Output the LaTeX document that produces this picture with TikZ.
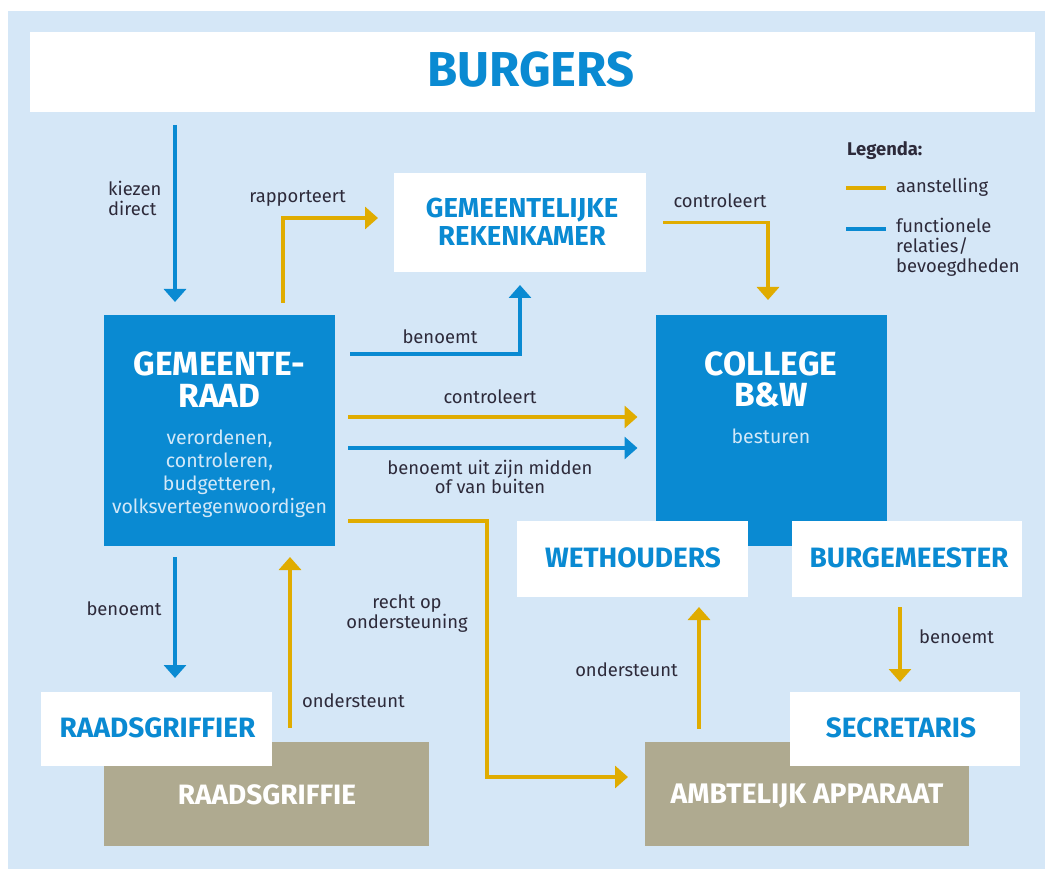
\documentclass[tikz,border=0pt]{standalone}
\usepackage{fontspec}
\setmainfont{Fira Sans}
\usetikzlibrary{arrows.meta,calc}
\definecolor{bgblue}{HTML}{D5E7F7}
\definecolor{mainblue}{HTML}{0A8AD2}
\definecolor{gold}{HTML}{E0AC00}
\definecolor{taupe}{HTML}{AFAA90}
\definecolor{txt}{HTML}{2D2A3A}
\definecolor{lighttxt}{HTML}{D2E8F8}
\tikzset{
  box/.style={inner sep=0pt, outer sep=0pt},
  lbl/.style={font=\fontsize{18.4}{20}\selectfont, text=txt, inner sep=0pt, anchor=base},
  lblw/.style={lbl, anchor=base west},
  hd/.style={font=\fontsize{#1}{#1}\selectfont\bfseries, inner sep=0pt, anchor=base},
  sub/.style={font=\fontsize{19.5}{21}\selectfont, text=lighttxt, inner sep=0pt, anchor=base},
  garrow/.style={draw=gold, line width=3.5pt, -{Triangle[width=22pt,length=13pt]}},
  barrow/.style={draw=mainblue, line width=3.5pt, -{Triangle[width=22pt,length=13pt]}},
}
\begin{document}
\begin{tikzpicture}[x=1pt,y=-1pt]
\useasboundingbox (0,0) rectangle (1045,869);
\fill[white] (0,0) rectangle (1045,869);
\fill[bgblue] (8,11) rectangle (1045,869);

% boxes
\node[box, fill=white, minimum width=1005pt, minimum height=80pt] (burgers) at (532.5,72) {};
\node[hd=49, text=mainblue] (burgersT) at (531,87) {BURGERS};

\node[box, fill=mainblue, minimum width=231pt, minimum height=231pt] (raad) at (219.5,430.5) {};
\node[hd=33.5, text=white] (raadT1) at (219.5,375) {GEMEENTE-};
\node[hd=33.5, text=white] (raadT2) at (219.5,407) {RAAD};
\node[sub] (raadS1) at (219.5,444) {verordenen,};
\node[sub] (raadS2) at (219.5,467) {controleren,};
\node[sub] (raadS3) at (219.5,490) {budgetteren,};
\node[sub] (raadS4) at (219.5,513) {volksvertegenwoordigen};

\node[box, fill=white, minimum width=252pt, minimum height=99pt] (rek) at (520,222.5) {};
\node[hd=27.4, text=mainblue] (rekT1) at (522,218) {GEMEENTELIJKE};
\node[hd=27.4, text=mainblue] (rekT2) at (522,246) {REKENKAMER};

\node[box, fill=mainblue, minimum width=231pt, minimum height=231pt] (college) at (771,430.5) {};
\node[hd=33.5, text=white] (colT1) at (771,375) {COLLEGE};
\node[hd=33.5, text=white] (colT2) at (771,406) {B\&W};
\node[sub] (colS) at (771,443) {besturen};

\node[box, fill=white, minimum width=231pt, minimum height=76pt] (weth) at (632.5,559) {};
\node[hd=28, text=mainblue] (wethT) at (633,567) {WETHOUDERS};
\node[box, fill=white, minimum width=230pt, minimum height=76pt] (burg) at (907,559) {};
\node[hd=28, text=mainblue] (burgT) at (909,567) {BURGEMEESTER};

\node[box, fill=taupe, minimum width=325pt, minimum height=104pt] (griffie) at (266.5,794) {};
\node[hd=28, text=white] (griffieT) at (267,804) {RAADSGRIFFIE};
\node[box, fill=white, minimum width=231pt, minimum height=74pt] (griffier) at (156.5,729) {};
\node[hd=28, text=mainblue] (griffierT) at (157.5,737) {RAADSGRIFFIER};

\node[box, fill=taupe, minimum width=324pt, minimum height=104pt] (amb) at (807,794) {};
\node[hd=28.3, text=white] (ambT) at (807,803) {AMBTELIJK APPARAAT};
\node[box, fill=white, minimum width=230pt, minimum height=74pt] (secr) at (905,729) {};
\node[hd=28, text=mainblue] (secrT) at (901,737) {SECRETARIS};

% helper coordinates
\coordinate (xK) at (175,0);
\coordinate (xR) at (283,0);
\coordinate (yR) at (0,218);
\coordinate (yB) at (0,354);
\coordinate (xC) at (768,0);
\coordinate (yC1) at (0,417);
\coordinate (yC2) at (0,448);
\coordinate (yO) at (0,521);
\coordinate (xO) at (487,0);
\coordinate (yA) at (0,777);
\coordinate (xG) at (290,0);
\coordinate (xW) at (699,0);
\coordinate (xS) at (900,0);

% connectors
\draw[barrow, shorten <=13pt, shorten >=13pt] (burgers.south -| xK) -- (raad.north -| xK);
\draw[garrow, shorten <=12pt, shorten >=16pt] (raad.north -| xR) |- (rek.west |- yR);
\draw[barrow, shorten <=15pt, shorten >=13pt] (raad.east |- yB) -| (rek.south);
\draw[garrow, shorten <=17pt, shorten >=15pt] (rek.east) -| (xC |- college.north);
\draw[garrow, shorten <=13pt, shorten >=18pt] (raad.east |- yC1) -- (college.west |- yC1);
\draw[barrow, shorten <=13pt, shorten >=18pt] (raad.east |- yC2) -- (college.west |- yC2);
\draw[garrow, shorten <=13pt, shorten >=17pt] (raad.east |- yO) -| (xO |- yA) -- (amb.west |- yA);
\draw[barrow, shorten <=11pt, shorten >=14pt] (raad.south -| xK) -- (griffier.north -| xK);
\draw[garrow, shorten <=14pt, shorten >=11pt] (griffie.north -| xG) -- (raad.south -| xG);
\draw[garrow, shorten <=13pt, shorten >=10pt] (amb.north -| xW) -- (weth.south -| xW);
\draw[garrow, shorten <=10pt, shorten >=10pt] (burg.south -| xS) -- (secr.north -| xS);

% labels
\node[lblw] (l1a) at (108,196) {kiezen};
\node[lblw] (l1b) at (108,216) {direct};
\node[lbl] (l2) at (297.5,203) {rapporteert};
\node[lbl] (l3) at (440,343) {benoemt};
\node[lbl] (l4) at (720,208) {controleert};
\node[lbl] (l5) at (490,403) {controleert};
\node[lbl] (l6a) at (490,474) {benoemt uit zijn midden};
\node[lbl] (l6b) at (490,493) {of van buiten};
\node[lbl] (l7) at (124,615) {benoemt};
\node[lblw] (l8) at (302,707) {ondersteunt};
\node[lbl] (l9a) at (407,608) {recht op};
\node[lbl] (l9b) at (407,628) {ondersteuning};
\node[lbl] (l10) at (626.5,676) {ondersteunt};
\node[lblw] (l11) at (919,643) {benoemt};

% legend
\node[lblw, font=\fontsize{18.4}{20}\selectfont\bfseries] (legT) at (847,156) {Legenda:};
\coordinate (lg1a) at (846,188);
\coordinate (lg1b) at (886,188);
\coordinate (lg2a) at (846,229);
\coordinate (lg2b) at (886,229);
\draw[gold, line width=3.5pt] (lg1a) -- (lg1b);
\draw[mainblue, line width=3.5pt] (lg2a) -- (lg2b);
\node[lblw] (leg1) at (896,193) {aanstelling};
\node[lblw] (leg2a) at (896,233) {functionele};
\node[lblw] (leg2b) at (896,253) {relaties/};
\node[lblw] (leg2c) at (896,273) {bevoegdheden};
\end{tikzpicture}
\end{document}
